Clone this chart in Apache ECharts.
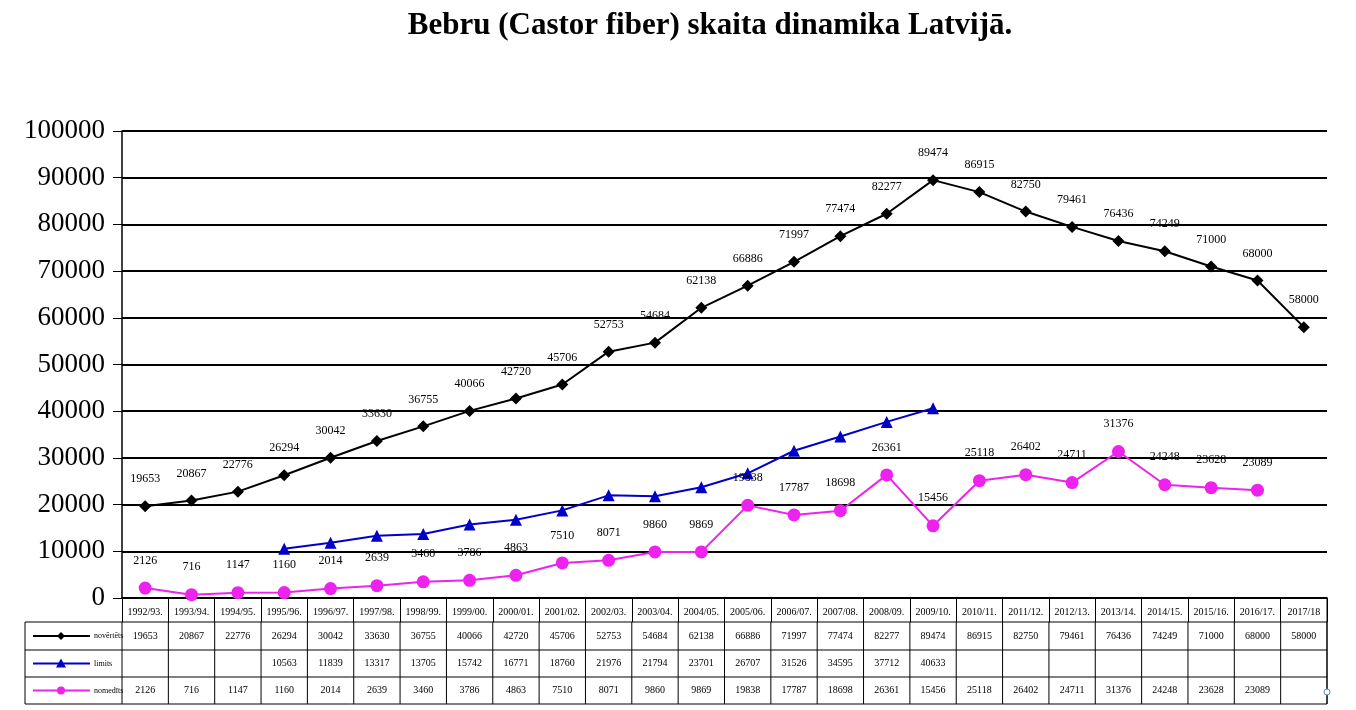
<!DOCTYPE html>
<html>
<head>
<meta charset="utf-8">
<title>Bebru skaita dinamika</title>
<script src="https://cdn.jsdelivr.net/npm/echarts@6/dist/echarts.min.js"></script>
<style>
html,body{margin:0;padding:0;background:#fff;}
#chart{width:1356px;height:710px;}
</style>
</head>
<body>
<div id="chart"></div>
<script type="text/javascript">
// sezonas
var seasons = ['1992/93.','1993/94.','1994/95.','1995/96.','1996/97.','1997/98.','1998/99.','1999/00.','2000/01.','2001/02.','2002/03.','2003/04.','2004/05.','2005/06.','2006/07.','2007/08.','2008/09.','2009/10.','2010/11.','2011/12.','2012/13.','2013/14.','2014/15.','2015/16.','2016/17.','2017/18'];
var novertets = [19653,20867,22776,26294,30042,33630,36755,40066,42720,45706,52753,54684,62138,66886,71997,77474,82277,89474,86915,82750,79461,76436,74249,71000,68000,58000];
var limits = [null,null,null,10563,11839,13317,13705,15742,16771,18760,21976,21794,23701,26707,31526,34595,37712,40633,null,null,null,null,null,null,null,null];
var nomedits = [2126,716,1147,1160,2014,2639,3460,3786,4863,7510,8071,9860,9869,19838,17787,18698,26361,15456,25118,26402,24711,31376,24248,23628,23089,null];
var yTicks = [0,10000,20000,30000,40000,50000,60000,70000,80000,90000,100000];

var serif = '"Liberation Serif","DejaVu Serif",serif';
var rows = [
    {name:'novērtēts', data:novertets, color:'#000000', symbol:'diamond', size:12},
    {name:'limits', data:limits, color:'#0000c8', symbol:'triangle', size:12},
    {name:'nomedīts', data:nomedits, color:'#ee22ee', symbol:'circle', size:13}
];

var myChart = echarts.init(document.getElementById('chart'));

var option = {
    animation:false,
    title:{
        text:'Bebru (Castor fiber) skaita dinamika Latvijā.',
        left:705, textAlign:'center', top:5,
        textStyle:{fontFamily:serif, fontSize:31, fontWeight:'bold', color:'#000'}
    },
    grid:{left:122, right:29, top:131, bottom:112},
    xAxis:{
        type:'category',
        data:seasons,
        boundaryGap:true,
        axisLine:{lineStyle:{color:'#000', width:1.5}},
        axisTick:{show:true, length:24, lineStyle:{color:'#000'}},
        axisLabel:{fontFamily:serif, fontSize:10, color:'#000', margin:9, interval:0}
    },
    yAxis:{
        type:'value',
        min:yTicks[0], max:yTicks[yTicks.length-1], interval:10000,
        axisLine:{show:true, lineStyle:{color:'#000', width:1.5}},
        axisTick:{show:true, length:9, lineStyle:{color:'#000'}},
        axisLabel:{fontFamily:serif, fontSize:27, color:'#000', margin:17, formatter:function(v){return String(v);}},
        splitLine:{lineStyle:{color:'#000', width:2}}
    },
    series:rows.map(function(r, k){
        return {
            name:r.name,
            type:'line',
            data:r.data,
            symbol:r.symbol,
            symbolSize:r.size,
            connectNulls:false,
            lineStyle:{color:r.color, width:2},
            itemStyle:{color:r.color},
            label:{
                show:k!==1,
                position:'top',
                distance:15,
                fontFamily:serif, fontSize:12, color:'#000'
            }
        };
    })
};
myChart.setOption(option);

// tabula zem grafika
var g = [];
var x0 = myChart.convertToPixel({xAxisIndex:0}, 0);
var x1 = myChart.convertToPixel({xAxisIndex:0}, 1);
var colW = x1 - x0;
var left = x0 - colW/2;
var right = left + colW*seasons.length;
var rowY = [622, 650, 677, 704];
var legL = 25;
function line(xa,ya,xb,yb,color,w){
    g.push({type:'line', shape:{x1:xa,y1:ya,x2:xb,y2:yb}, style:{stroke:color||'#000', lineWidth:w||1}, silent:true});
}
// horizontālās
rowY.forEach(function(y){ line(legL, y, right, y); });
line(right, 598, right, rowY[3]);
line(legL, rowY[0], legL, rowY[3]);
// vertikālās
for(var i=0;i<=seasons.length;i++){
    line(left + i*colW, rowY[0], left + i*colW, rowY[3]);
}
rows.forEach(function(r, k){
    var yc = (rowY[k] + rowY[k+1]) / 2;
    // leģenda
    line(33, yc, 90, yc, r.color, 2);
    if(r.symbol==='diamond'){
        g.push({type:'polygon', shape:{points:[[61,yc-4],[65,yc],[61,yc+4],[57,yc]]}, style:{fill:r.color}});
    }else if(r.symbol==='triangle'){
        g.push({type:'polygon', shape:{points:[[61,yc-5],[66,yc+4],[56,yc+4]]}, style:{fill:r.color}});
    }else{
        g.push({type:'circle', shape:{cx:61, cy:yc, r:4}, style:{fill:r.color}});
    }
    g.push({type:'text', x:94, y:yc, style:{text:r.name, font:'8px '+serif, fill:'#000', verticalAlign:'middle'}});
    r.data.forEach(function(v, j){
        if(v===null) return;
        var cx = myChart.convertToPixel({xAxisIndex:0}, j);
        g.push({type:'text', x:cx, y:yc, style:{text:String(v), font:'10px '+serif, fill:'#000', align:'center', verticalAlign:'middle'}});
    });
});
g.push({type:'circle', shape:{cx:1327, cy:692, r:3}, style:{fill:'#fff', stroke:'#4a86c8', lineWidth:1}});
myChart.setOption({graphic:g});
</script>
</body>
</html>
